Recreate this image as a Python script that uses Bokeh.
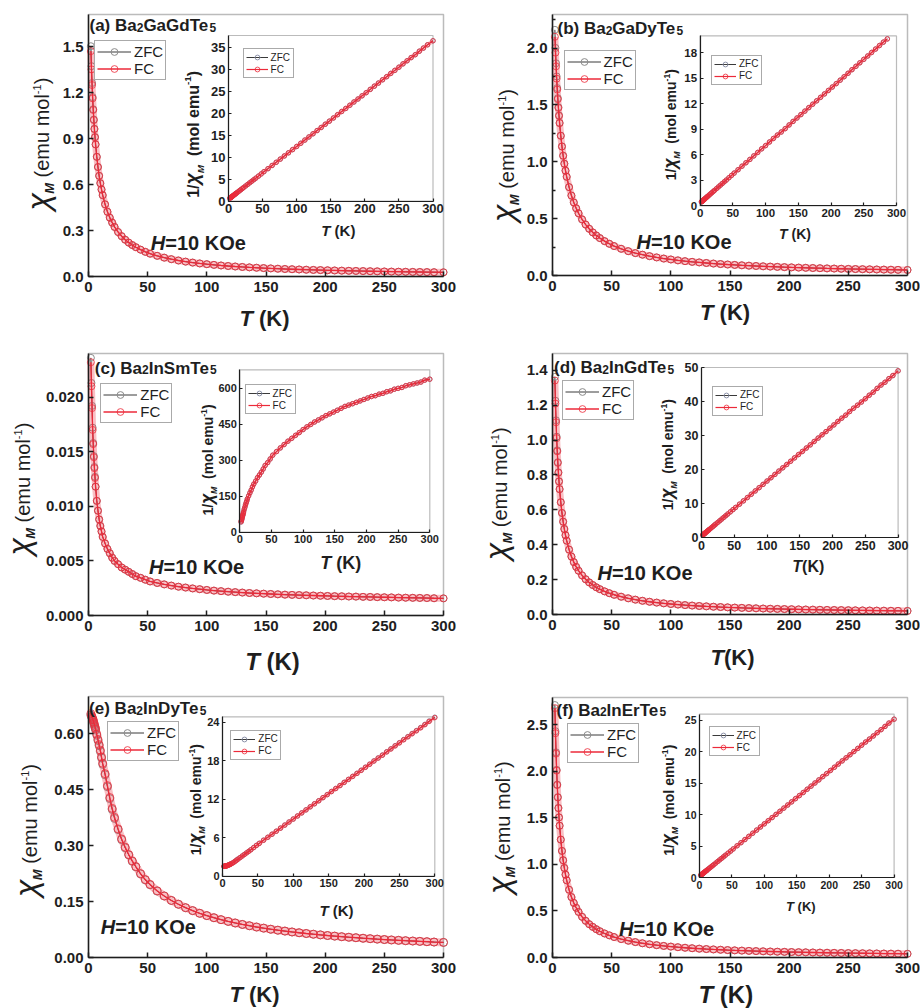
from bokeh.embed import file_html
from bokeh.layouts import column, row
from bokeh.models import (BoxAnnotation, FixedTicker, Label, Legend, LegendItem,
                          LinearAxis, Range1d)
from bokeh.plotting import figure
from bokeh.resources import INLINE

# ---------------------------------------------------------------- data
temps = [
    2, 2.5, 3, 3.5, 4, 4.5, 5, 5.5, 6, 7,
    8, 9, 10, 11, 12, 14, 16, 18, 20, 22,
    25, 28, 31, 34, 37, 40, 44, 48, 52, 58,
    64, 70, 76, 82, 88, 94, 100, 106, 112, 118,
    124, 130, 136, 142, 148, 154, 160, 166, 172, 178,
    184, 190, 196, 202, 208, 214, 220, 226, 232, 238,
    244, 250, 256, 262, 268, 274, 280, 286, 292, 300,
]

# (a) Ba2GaGdTe5, chi_M in emu/mol
a_fc = [
    1.470, 1.351, 1.249, 1.162, 1.086, 1.020, 0.961, 0.908, 0.861, 0.780,
    0.714, 0.657, 0.609, 0.568, 0.531, 0.471, 0.423, 0.384, 0.352, 0.324,
    0.290, 0.263, 0.240, 0.221, 0.205, 0.191, 0.175, 0.161, 0.149, 0.135,
    0.123, 0.113, 0.1044, 0.0971, 0.0908, 0.0852, 0.0803, 0.0759, 0.0719, 0.0684,
    0.0652, 0.0622, 0.0596, 0.0571, 0.0549, 0.0528, 0.0508, 0.0490, 0.0474, 0.0458,
    0.0443, 0.0430, 0.0417, 0.0405, 0.0393, 0.0382, 0.0372, 0.0362, 0.0353, 0.0344,
    0.0336, 0.0328, 0.0320, 0.0313, 0.0306, 0.0300, 0.0293, 0.0287, 0.0281, 0.0274,
]
a_zfc = [
    1.502, 1.372, 1.262, 1.170, 1.091, 1.024, 0.964, 0.910, 0.862, 0.781,
    0.714, 0.656, 0.608, 0.567, 0.530, 0.470, 0.422, 0.383, 0.351, 0.323,
    0.290, 0.263, 0.240, 0.221, 0.205, 0.191, 0.175, 0.161, 0.149, 0.135,
    0.123, 0.113, 0.1044, 0.0971, 0.0908, 0.0852, 0.0803, 0.0759, 0.0719, 0.0684,
    0.0652, 0.0622, 0.0596, 0.0571, 0.0549, 0.0528, 0.0508, 0.0490, 0.0474, 0.0458,
    0.0443, 0.0430, 0.0417, 0.0405, 0.0393, 0.0382, 0.0372, 0.0362, 0.0353, 0.0344,
    0.0336, 0.0328, 0.0320, 0.0313, 0.0306, 0.0300, 0.0293, 0.0287, 0.0281, 0.0274,
]

# (b) Ba2GaDyTe5
b_fc = [
    2.099, 1.960, 1.839, 1.731, 1.635, 1.550, 1.473, 1.403, 1.339, 1.228,
    1.134, 1.053, 0.983, 0.922, 0.868, 0.777, 0.703, 0.642, 0.591, 0.547,
    0.493, 0.448, 0.411, 0.379, 0.352, 0.329, 0.302, 0.279, 0.259, 0.235,
    0.214, 0.197, 0.183, 0.170, 0.159, 0.149, 0.141, 0.133, 0.126, 0.120,
    0.115, 0.110, 0.105, 0.1006, 0.0967, 0.0931, 0.0897, 0.0865, 0.0836, 0.0809,
    0.0783, 0.0759, 0.0736, 0.0715, 0.0695, 0.0676, 0.0658, 0.0641, 0.0624, 0.0609,
    0.0594, 0.0580, 0.0567, 0.0554, 0.0542, 0.0530, 0.0519, 0.0509, 0.0498, 0.0485,
]
b_zfc = [
    2.160, 2.001, 1.866, 1.750, 1.648, 1.559, 1.480, 1.408, 1.343, 1.230,
    1.135, 1.053, 0.983, 0.922, 0.868, 0.777, 0.703, 0.642, 0.591, 0.547,
    0.493, 0.448, 0.411, 0.379, 0.352, 0.329, 0.302, 0.279, 0.259, 0.235,
    0.214, 0.197, 0.183, 0.170, 0.159, 0.149, 0.141, 0.133, 0.126, 0.120,
    0.115, 0.110, 0.105, 0.1006, 0.0967, 0.0931, 0.0897, 0.0865, 0.0836, 0.0809,
    0.0783, 0.0759, 0.0736, 0.0715, 0.0695, 0.0676, 0.0658, 0.0641, 0.0624, 0.0609,
    0.0594, 0.0580, 0.0567, 0.0554, 0.0542, 0.0530, 0.0519, 0.0509, 0.0498, 0.0485,
]

# (c) Ba2InSmTe5
c_fc = [
    0.0232, 0.0210, 0.0190, 0.0170, 0.0157, 0.0145, 0.0135, 0.0126, 0.0118, 0.0105,
    0.0096, 0.0088, 0.0082, 0.0077, 0.0072, 0.0066, 0.0061, 0.0057, 0.0053, 0.0050,
    0.0047, 0.0044, 0.0042, 0.0040, 0.0038, 0.0036, 0.00345, 0.00328, 0.00312, 0.00298,
    0.00285, 0.00274, 0.00264, 0.00256, 0.00248, 0.00241, 0.00234, 0.00228, 0.00223, 0.00218,
    0.00214, 0.00210, 0.00206, 0.00203, 0.00200, 0.00197, 0.00194, 0.00191, 0.00189, 0.00187,
    0.00185, 0.00183, 0.00181, 0.00179, 0.00177, 0.00176, 0.00174, 0.00173, 0.00171, 0.00170,
    0.00168, 0.00167, 0.00166, 0.00164, 0.00163, 0.00162, 0.00161, 0.00160, 0.00158, 0.00157,
]
c_zfc = [
    0.0236, 0.0213, 0.0192, 0.0172, 0.0158, 0.0146, 0.0136, 0.0127, 0.0118, 0.0105,
    0.0096, 0.0088, 0.0082, 0.0077, 0.0072, 0.0066, 0.0061, 0.0057, 0.0053, 0.0050,
    0.0047, 0.0044, 0.0042, 0.0040, 0.0038, 0.0036, 0.00345, 0.00328, 0.00312, 0.00298,
    0.00285, 0.00274, 0.00264, 0.00256, 0.00248, 0.00241, 0.00234, 0.00228, 0.00223, 0.00218,
    0.00214, 0.00210, 0.00206, 0.00203, 0.00200, 0.00197, 0.00194, 0.00191, 0.00189, 0.00187,
    0.00185, 0.00183, 0.00181, 0.00179, 0.00177, 0.00176, 0.00174, 0.00173, 0.00171, 0.00170,
    0.00168, 0.00167, 0.00166, 0.00164, 0.00163, 0.00162, 0.00161, 0.00160, 0.00158, 0.00157,
]

# (d) Ba2InGdTe5
d_fc = [
    1.341, 1.209, 1.102, 1.011, 0.935, 0.869, 0.812, 0.762, 0.718, 0.643,
    0.582, 0.532, 0.490, 0.454, 0.423, 0.372, 0.332, 0.300, 0.273, 0.251,
    0.224, 0.202, 0.184, 0.169, 0.156, 0.145, 0.1326, 0.1221, 0.1132, 0.1020,
    0.0928, 0.0851, 0.0786, 0.0730, 0.0682, 0.0640, 0.0602, 0.0569, 0.0539, 0.0512,
    0.0488, 0.0466, 0.0446, 0.0427, 0.0410, 0.0395, 0.0380, 0.0367, 0.0354, 0.0342,
    0.0331, 0.0321, 0.0311, 0.0302, 0.0293, 0.0285, 0.0278, 0.0270, 0.0263, 0.0257,
    0.0251, 0.0245, 0.0239, 0.0234, 0.0228, 0.0223, 0.0219, 0.0214, 0.0210, 0.0204,
]
d_zfc = [
    1.362, 1.225, 1.113, 1.019, 0.941, 0.873, 0.815, 0.764, 0.719, 0.644,
    0.582, 0.532, 0.490, 0.454, 0.423, 0.372, 0.332, 0.300, 0.273, 0.251,
    0.224, 0.202, 0.184, 0.169, 0.156, 0.145, 0.1326, 0.1221, 0.1132, 0.1020,
    0.0928, 0.0851, 0.0786, 0.0730, 0.0682, 0.0640, 0.0602, 0.0569, 0.0539, 0.0512,
    0.0488, 0.0466, 0.0446, 0.0427, 0.0410, 0.0395, 0.0380, 0.0367, 0.0354, 0.0342,
    0.0331, 0.0321, 0.0311, 0.0302, 0.0293, 0.0285, 0.0278, 0.0270, 0.0263, 0.0257,
    0.0251, 0.0245, 0.0239, 0.0234, 0.0228, 0.0223, 0.0219, 0.0214, 0.0210, 0.0204,
]

# (e) Ba2InDyTe5
e_fc = [
    0.654, 0.649, 0.645, 0.641, 0.637, 0.631, 0.625, 0.619, 0.613, 0.599,
    0.585, 0.571, 0.556, 0.538, 0.521, 0.493, 0.461, 0.429, 0.400, 0.376,
    0.345, 0.318, 0.296, 0.276, 0.259, 0.244, 0.225, 0.209, 0.196, 0.179,
    0.165, 0.153, 0.1429, 0.1337, 0.1258, 0.1186, 0.1124, 0.1067, 0.1015, 0.0969,
    0.0926, 0.0887, 0.0852, 0.0818, 0.0788, 0.0759, 0.0733, 0.0709, 0.0685, 0.0664,
    0.0644, 0.0625, 0.0607, 0.0590, 0.0574, 0.0558, 0.0544, 0.0531, 0.0517, 0.0505,
    0.0493, 0.0482, 0.0471, 0.0461, 0.0451, 0.0442, 0.0433, 0.0424, 0.0415, 0.0405,
]
e_zfc = [
    0.650, 0.646, 0.642, 0.638, 0.633, 0.628, 0.622, 0.616, 0.610, 0.596,
    0.582, 0.568, 0.553, 0.535, 0.518, 0.490, 0.458, 0.426, 0.397, 0.373,
    0.343, 0.316, 0.294, 0.275, 0.258, 0.243, 0.224, 0.208, 0.195, 0.178,
    0.165, 0.153, 0.1427, 0.1335, 0.1256, 0.1185, 0.1123, 0.1066, 0.1014, 0.0968,
    0.0925, 0.0886, 0.0851, 0.0817, 0.0787, 0.0758, 0.0732, 0.0708, 0.0684, 0.0663,
    0.0643, 0.0624, 0.0606, 0.0589, 0.0573, 0.0557, 0.0543, 0.0530, 0.0516, 0.0504,
    0.0492, 0.0481, 0.0470, 0.0460, 0.0450, 0.0441, 0.0432, 0.0423, 0.0414, 0.0404,
]

# (f) Ba2InErTe5
f_fc = [
    2.679, 2.410, 2.190, 2.007, 1.852, 1.719, 1.604, 1.504, 1.415, 1.266,
    1.145, 1.045, 0.962, 0.890, 0.829, 0.728, 0.649, 0.586, 0.534, 0.490,
    0.437, 0.394, 0.358, 0.329, 0.304, 0.282, 0.258, 0.238, 0.220, 0.198,
    0.1805, 0.1656, 0.1529, 0.1420, 0.1326, 0.1244, 0.1171, 0.1106, 0.1048, 0.0996,
    0.0949, 0.0906, 0.0867, 0.0831, 0.0797, 0.0767, 0.0739, 0.0712, 0.0688, 0.0665,
    0.0644, 0.0623, 0.0605, 0.0587, 0.0570, 0.0554, 0.0539, 0.0525, 0.0512, 0.0499,
    0.0487, 0.0475, 0.0464, 0.0454, 0.0444, 0.0434, 0.0425, 0.0416, 0.0407, 0.0397,
]
f_zfc = [
    2.712, 2.431, 2.204, 2.016, 1.858, 1.723, 1.607, 1.506, 1.416, 1.267,
    1.145, 1.045, 0.962, 0.890, 0.829, 0.728, 0.649, 0.586, 0.534, 0.490,
    0.437, 0.394, 0.358, 0.329, 0.304, 0.282, 0.258, 0.238, 0.220, 0.198,
    0.1805, 0.1656, 0.1529, 0.1420, 0.1326, 0.1244, 0.1171, 0.1106, 0.1048, 0.0996,
    0.0949, 0.0906, 0.0867, 0.0831, 0.0797, 0.0767, 0.0739, 0.0712, 0.0688, 0.0665,
    0.0644, 0.0623, 0.0605, 0.0587, 0.0570, 0.0554, 0.0539, 0.0525, 0.0512, 0.0499,
    0.0487, 0.0475, 0.0464, 0.0454, 0.0444, 0.0434, 0.0425, 0.0416, 0.0407, 0.0397,
]

# tick values and their labels
temp_ticks = [0, 50, 100, 150, 200, 250, 300]
temp_tick_labels = ["0", "50", "100", "150", "200", "250", "300"]

a_chi_ticks = [0, 0.3, 0.6, 0.9, 1.2, 1.5]
a_chi_labels = ["0.0", "0.3", "0.6", "0.9", "1.2", "1.5"]
a_inv_ticks = [0, 5, 10, 15, 20, 25, 30, 35]
a_inv_labels = ["0", "5", "10", "15", "20", "25", "30", "35"]

b_chi_ticks = [0, 0.5, 1.0, 1.5, 2.0]
b_chi_labels = ["0.0", "0.5", "1.0", "1.5", "2.0"]
b_chi_minor = [0.25, 0.75, 1.25, 1.75, 2.25]
b_inv_ticks = [0, 3, 6, 9, 12, 15, 18]
b_inv_labels = ["0", "3", "6", "9", "12", "15", "18"]

c_chi_ticks = [0, 0.005, 0.010, 0.015, 0.020]
c_chi_labels = ["0.000", "0.005", "0.010", "0.015", "0.020"]
c_inv_ticks = [0, 150, 300, 450, 600]
c_inv_labels = ["0", "150", "300", "450", "600"]

d_chi_ticks = [0, 0.2, 0.4, 0.6, 0.8, 1.0, 1.2, 1.4]
d_chi_labels = ["0.0", "0.2", "0.4", "0.6", "0.8", "1.0", "1.2", "1.4"]
d_inv_ticks = [0, 10, 20, 30, 40, 50]
d_inv_labels = ["0", "10", "20", "30", "40", "50"]

e_chi_ticks = [0, 0.15, 0.30, 0.45, 0.60]
e_chi_labels = ["0.00", "0.15", "0.30", "0.45", "0.60"]
e_inv_ticks = [0, 6, 12, 18, 24]
e_inv_labels = ["0", "6", "12", "18", "24"]

f_chi_ticks = [0, 0.5, 1.0, 1.5, 2.0, 2.5]
f_chi_labels = ["0.0", "0.5", "1.0", "1.5", "2.0", "2.5"]
f_inv_ticks = [0, 5, 10, 15, 20, 25]
f_inv_labels = ["0", "5", "10", "15", "20", "25"]

# ---------------------------------------------------------------- style
FONT = "Liberation Sans"
INK = "#1e1e1e"
RED = "#ec2a3a"
DARK = "#3a3a3a"
GREY = "#8c8c8c"
BLUEGREY = "#8d93aa"
BASE_LIFT = 0.33   # label anchor sits about a third of an em under the baseline

# Arial-compatible advance widths (em) used to chain label pieces
W_REG = {' ': .278, '(': .333, ')': .333, '-': .333, '/': .278, '=': .584,
         '0': .556, '1': .556, '2': .556, '5': .556, 'e': .556, 'm': .833,
         'u': .556, 'o': .556, 'l': .222, 'M': .833, 'K': .667, 'T': .611,
         'H': .722, 'O': .778, 'χ': .52, 'a': .556, 'B': .667, 'G': .778,
         'd': .556, 'I': .278, 'n': .556, 'S': .667, 'D': .722, 'y': .5,
         'E': .667, 'r': .333, 'b': .556, 'c': .5, 'f': .278}
W_BOLD = {' ': .278, '(': .333, ')': .333, '-': .333, '/': .278, '=': .584,
          '0': .556, '1': .556, '2': .556, '5': .556, 'e': .556, 'm': .889,
          'u': .611, 'o': .611, 'l': .278, 'M': .833, 'K': .722, 'T': .611,
          'H': .722, 'O': .778, 'χ': .56, 'a': .556, 'B': .722, 'G': .778,
          'd': .611, 'I': .278, 'n': .611, 'S': .667, 'D': .722, 'y': .556,
          'E': .667, 'r': .389, 'b': .611, 'c': .556, 'f': .333}


def text_width(s, size, style):
    table = W_BOLD if "bold" in style else W_REG
    return sum(table.get(ch, 0.556) for ch in s) * size


class Writer:
    """Places text pieces in pixel coordinates measured from the plot box corner."""

    def __init__(self, p, ox, oy):
        self.p, self.ox, self.oy = p, ox, oy

    def put(self, x, y, text, size, style, angle=0):
        if angle:
            x -= BASE_LIFT * size
        else:
            y += BASE_LIFT * size
        self.p.add_layout(Label(x=self.ox + x, y=self.oy + y,
                                x_units="screen", y_units="screen", text=text,
                                text_font=FONT, text_font_size=f"{size:.1f}px",
                                text_font_style=style, text_color=INK,
                                angle=angle, angle_units="deg",
                                text_align="left", text_baseline="alphabetic"))

    def run_h(self, x, y, pieces):
        for text, size, style, shift in pieces:
            core = text.lstrip(" ")
            lead = text_width(text[:len(text) - len(core)], size, style)
            self.put(x + lead, y + shift, core, size, style)
            x += text_width(text, size, style)

    def run_h_centered(self, cx, y, pieces):
        total = sum(text_width(t, s, st) for t, s, st, _ in pieces)
        self.run_h(cx - total / 2, y, pieces)

    def run_v(self, x, y, pieces):
        # rotated 90 deg: text climbs upward, glyph tops point to the left
        for text, size, style, shift in pieces:
            core = text.lstrip(" ")
            lead = text_width(text[:len(text) - len(core)], size, style)
            self.put(x + shift, y + lead, core, size, style, angle=90)
            y += text_width(text, size, style)


def style_axis(ax, ticks, labels, font_px, line_w, tick_in, standoff, minor=()):
    ax.ticker = FixedTicker(ticks=ticks, minor_ticks=list(minor))
    ax.major_label_overrides = dict(zip(ticks, labels))
    ax.axis_line_color = INK
    ax.axis_line_width = line_w
    ax.major_tick_line_color = INK
    ax.major_tick_line_width = line_w
    ax.major_tick_in = tick_in
    ax.major_tick_out = 0
    ax.minor_tick_line_color = INK
    ax.minor_tick_line_width = line_w
    ax.minor_tick_in = 3
    ax.minor_tick_out = 0
    ax.major_label_text_font = FONT
    ax.major_label_text_font_size = f"{font_px}px"
    ax.major_label_text_font_style = "bold"
    ax.major_label_text_color = INK
    ax.major_label_standoff = standoff


def add_legend(p, items, loc, font_px, glyph_w, row_h, pad):
    p.add_layout(Legend(items=items, location=loc, orientation="vertical",
                        label_text_font=FONT, label_text_font_size=f"{font_px}px",
                        label_text_color=INK, glyph_width=glyph_w,
                        glyph_height=row_h, label_height=row_h, spacing=0,
                        padding=pad, margin=0, label_standoff=3,
                        border_line_color="#555555", border_line_width=1,
                        background_fill_color="white", background_fill_alpha=1))


# ---------------------------------------------------------------- panels
PANELS = [
    dict(name=["(a) Ba", "2", "GaGdTe", "5"], zfc=a_zfc, fc=a_fc,
         chi_ticks=a_chi_ticks, chi_labels=a_chi_labels, chi_minor=[], chi_top=1.709,
         inv_ticks=a_inv_ticks, inv_labels=a_inv_labels, inv_top=37.7,
         size=(460, 336), border=(88, 17, 14, 60),
         inset=(140, 344.5, 75.3, 241), leg=(6, 196), ileg=(154.6, 197.7),
         title=(1, 245), field=(62.3, 26.7), xlab=(176, -49, 22, " (K)"),
         ylab=(-39.7, 66), ixlab=(249.8, 41, 15, " (K)"), iylab=(110.3, 78.7, 16),
         itick=13, msize=7),
    dict(name=["(b) Ba", "2", "GaDyTe", "5"], zfc=b_zfc, fc=b_fc,
         chi_ticks=b_chi_ticks, chi_labels=b_chi_labels, chi_minor=b_chi_minor,
         chi_top=2.295,
         inv_ticks=b_inv_ticks, inv_labels=b_inv_labels, inv_top=20.0,
         size=(460, 336), border=(92, 13, 14, 61),
         inset=(147.6, 344, 69.6, 239.6), leg=(11.6, 184.6), ileg=(159, 190.3),
         title=(5, 241), field=(84, 27), xlab=(172.6, -44.7, 22, " (K)"),
         ylab=(-38.7, 53.6), ixlab=(242.5, 37, 14, " (K)"), iylab=(123.3, 95.3, 14),
         itick=11.5, msize=7),
    dict(name=["(c) Ba", "2", "InSmTe", "5"], zfc=c_zfc, fc=c_fc,
         chi_ticks=c_chi_ticks, chi_labels=c_chi_labels, chi_minor=[], chi_top=0.0240,
         inv_ticks=c_inv_ticks, inv_labels=c_inv_labels, inv_top=676.0,
         size=(460, 340), border=(88, 17, 17, 61),
         inset=(151.3, 341.3, 83.3, 245.7), leg=(12.3, 192.3), ileg=(156.6, 201),
         title=(6.3, 241.7), field=(60.6, 41.7), xlab=(184, -54, 24, " (K)"),
         ylab=(-58.7, 60), ixlab=(252.3, 46.7, 18, " (K)"), iylab=(124.3, 100, 14),
         itick=11, msize=7),
    dict(name=["(d) Ba", "2", "InGdTe", "5"], zfc=d_zfc, fc=d_fc,
         chi_ticks=d_chi_ticks, chi_labels=d_chi_labels, chi_minor=[], chi_top=1.496,
         inv_ticks=d_inv_ticks, inv_labels=d_inv_labels, inv_top=50.0,
         size=(460, 340), border=(92, 13, 17, 62),
         inset=(149, 345.6, 77, 247), leg=(10, 194.3), ileg=(160, 198.3),
         title=(1.6, 241), field=(45, 35), xlab=(180, -50.7, 22, "(K)"),
         ylab=(-45.7, 54.3), ixlab=(255.8, 42.6, 16, "(K)"), iylab=(120.3, 104.3, 14),
         itick=12.5, msize=7),
    dict(name=["(e) Ba", "2", "InDyTe", "5"], zfc=e_zfc, fc=e_fc,
         chi_ticks=e_chi_ticks, chi_labels=e_chi_labels, chi_minor=[], chi_top=0.700,
         inv_ticks=e_inv_ticks, inv_labels=e_inv_labels, inv_top=24.8,
         size=(460, 332), border=(88, 17, 20, 51),
         inset=(134, 346.3, 81.3, 240.6), leg=(19, 195.6), ileg=(142.3, 197.3),
         title=(0.6, 243.3), field=(12.3, 24), xlab=(166, -44.5, 22, " (K)"),
         ylab=(-51.7, 60.6), ixlab=(248, 42.3, 15, " (K)"), iylab=(112.3, 102.3, 14),
         itick=11, msize=8),
    dict(name=["(f) Ba", "2", "InErTe", "5"], zfc=f_zfc, fc=f_fc,
         chi_ticks=f_chi_ticks, chi_labels=f_chi_labels, chi_minor=[], chi_top=2.793,
         inv_ticks=f_inv_ticks, inv_labels=f_inv_labels, inv_top=26.0,
         size=(460, 332), border=(92, 13, 21, 51),
         inset=(147, 341.6, 80, 243.4), leg=(15, 194.4), ileg=(156.6, 201),
         title=(4, 241.7), field=(66.6, 21.7), xlab=(173.3, -45, 24, " (K)"),
         ylab=(-42.7, 63.4), ixlab=(248.3, 46.7, 13, " (K)"), iylab=(121.3, 101.7, 14),
         itick=10.5, msize=7),
]


def make_panel(s):
    W, H = s["size"]
    bl, br, bt, bb = s["border"]
    fw, fh = W - bl - br, H - bt - bb

    # the canvas frame covers the whole panel; the plot box sits inside it
    kx = 300.0 / fw
    ky = s["chi_top"] / fh
    p = figure(width=W, height=H, output_backend="svg", toolbar_location=None,
               x_range=Range1d(-bl * kx, (W - bl) * kx),
               y_range=Range1d(-bb * ky, (H - bb) * ky),
               x_axis_type=None, y_axis_type=None, min_border=0,
               outline_line_color=None,
               background_fill_color="white", border_fill_color="white")

    # main axes, drawn at the plot box edges
    xa = LinearAxis(fixed_location=0, bounds=(0, 300))
    style_axis(xa, temp_ticks, temp_tick_labels, 15, 1.5, 5, 5)
    p.add_layout(xa, "below")
    ya = LinearAxis(fixed_location=0, bounds=(0, s["chi_top"]))
    style_axis(ya, s["chi_ticks"], s["chi_labels"], 15, 1.5, 5, 5, s["chi_minor"])
    p.add_layout(ya, "left")
    p.add_layout(BoxAnnotation(left=0, right=300, bottom=0, top=s["chi_top"],
                               fill_alpha=0, line_color=INK, line_width=1.5,
                               level="underlay"))

    # inset coordinate system
    ix0, ix1, iy0, iy1 = s["inset"]
    kxi = 300.0 / (ix1 - ix0)
    kyi = s["inv_top"] / (iy1 - iy0)
    p.extra_x_ranges = {"ix": Range1d(-(bl + ix0) * kxi, (W - bl - ix0) * kxi)}
    p.extra_y_ranges = {"iy": Range1d(-(bb + iy0) * kyi, (H - bb - iy0) * kyi)}

    p.add_layout(BoxAnnotation(left=0, right=300, bottom=0, top=s["inv_top"],
                               x_range_name="ix", y_range_name="iy",
                               fill_color="white", fill_alpha=1,
                               line_color=INK, line_width=1.2, level="underlay"))
    ixa = LinearAxis(x_range_name="ix", y_range_name="iy", fixed_location=0,
                     bounds=(0, 300))
    style_axis(ixa, temp_ticks, temp_tick_labels, s["itick"], 1.2, 3, 3)
    p.add_layout(ixa, "below")
    iya = LinearAxis(x_range_name="ix", y_range_name="iy", fixed_location=0,
                     bounds=(0, s["inv_top"]))
    style_axis(iya, s["inv_ticks"], s["inv_labels"], s["itick"], 1.2, 3, 3)
    p.add_layout(iya, "left")

    # main curves: chi_M vs T (dense runs of open circles form a band)
    ms = s["msize"]
    zl = p.line(temps, s["zfc"], line_color=DARK, line_width=1)
    zs = p.scatter(temps, s["zfc"], marker="circle", size=ms, fill_color=None,
                   line_color=GREY, line_width=1)
    p.line(temps, s["fc"], line_color=RED, line_alpha=0.3, line_width=ms)
    fl = p.line(temps, s["fc"], line_color=RED, line_width=1.3)
    fs = p.scatter(temps, s["fc"], marker="circle", size=ms, fill_color=None,
                   line_color=RED, line_alpha=0.8, line_width=1)

    # inset curves: 1/chi_M vs T, kept inside the inset box
    def inverse(vals):
        pts = [(t, 1.0 / v) for t, v in zip(temps, vals) if 1.0 / v <= s["inv_top"]]
        return [t for t, _ in pts], [u for _, u in pts]

    tz, uz = inverse(s["zfc"])
    tf, uf = inverse(s["fc"])
    izl = p.line(tz, uz, x_range_name="ix", y_range_name="iy",
                 line_color=DARK, line_width=1)
    izs = p.scatter(tz, uz, x_range_name="ix", y_range_name="iy", marker="circle",
                    size=4.5, fill_color=None, line_color=BLUEGREY, line_width=1)
    p.line(tf, uf, x_range_name="ix", y_range_name="iy",
           line_color=RED, line_alpha=0.3, line_width=4)
    ifl = p.line(tf, uf, x_range_name="ix", y_range_name="iy",
                 line_color=RED, line_width=1.2)
    ifs = p.scatter(tf, uf, x_range_name="ix", y_range_name="iy", marker="circle",
                    size=4.5, fill_color=None, line_color=RED, line_alpha=0.8,
                    line_width=1)

    add_legend(p, [LegendItem(label="ZFC", renderers=[zl, zs]),
                   LegendItem(label="FC", renderers=[fl, fs])],
               (bl + s["leg"][0], bb + s["leg"][1]), 15, 34, 17, 2)
    add_legend(p, [LegendItem(label="ZFC", renderers=[izl, izs]),
                   LegendItem(label="FC", renderers=[ifl, ifs])],
               (bl + s["ileg"][0], bb + s["ileg"][1]), 10, 22, 12, 2)

    # texts
    w = Writer(p, bl, bb)
    n = s["name"]
    w.run_h(s["title"][0], s["title"][1],
            [(n[0], 17, "bold", 0), (n[1], 12, "bold", 0),
             (n[2], 17, "bold", 0), (n[3], 12, "bold", 0)])
    w.run_h(s["field"][0], s["field"][1],
            [("H", 20, "bold italic", 0), ("=10 KOe", 20, "bold", 0)])
    cx, by, fpx, tail = s["xlab"]
    w.run_h_centered(cx, by, [("T", fpx, "bold italic", 0), (tail, fpx, "bold", 0)])
    w.run_v(s["ylab"][0], s["ylab"][1],
            [("χ", 32, "italic", 0), ("M", 13, "bold italic", 5),
             (" (emu mol", 20, "normal", 0), ("-1", 11, "normal", -8),
             (")", 20, "normal", 0)])
    cx, by, fpx, tail = s["ixlab"]
    w.run_h_centered(cx, by, [("T", fpx, "bold italic", 0), (tail, fpx, "bold", 0)])
    bx, by, k = s["iylab"]
    w.run_v(bx, by,
            [("1/", k, "bold", 0), ("χ", 1.25 * k, "bold italic", 0),
             ("M", 0.62 * k, "bold italic", 0.3 * k), ("  (mol emu", k, "bold", 0),
             ("-1", 0.62 * k, "bold", -0.45 * k), (")", k, "bold", 0)])
    return p


figs = [make_panel(s) for s in PANELS]
page = column(row(figs[0], figs[1]), row(figs[2], figs[3]), row(figs[4], figs[5]))

open("out.html", "w").write(file_html(page, INLINE, title="Magnetic susceptibility"))
